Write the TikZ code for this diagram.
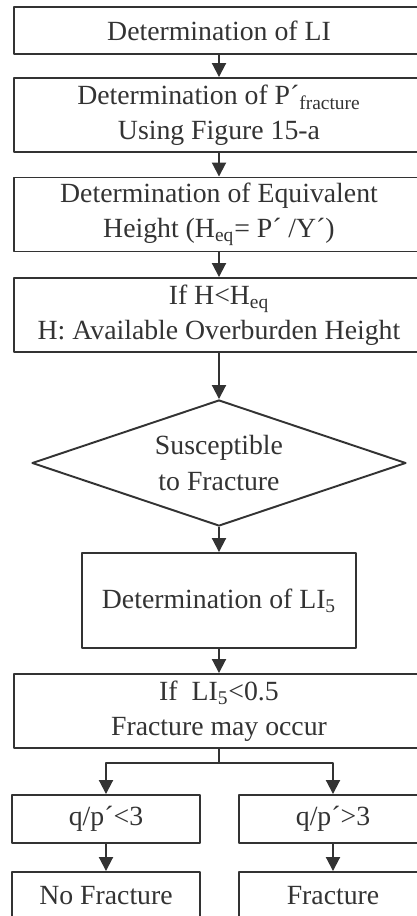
\documentclass[tikz,border=0pt]{standalone}
\usepackage{fontspec}
\setmainfont{Liberation Serif}
\usetikzlibrary{arrows.meta,positioning,shapes.geometric}
\definecolor{ink}{HTML}{333333}

\begin{document}
\begin{tikzpicture}[line join=round, color=ink, line width=1.1pt,
  font=\fontsize{15.8}{20}\selectfont,
  box/.style={draw, rectangle, align=center, inner sep=0pt},
  wide/.style={box, minimum width=8.2cm, minimum height=1.48cm},
  small/.style={box, minimum width=3.76cm, minimum height=0.96cm},
  dec/.style={draw, diamond, aspect=2.97, align=center, inner sep=0pt, minimum width=7.48cm, minimum height=2.52cm},
  flow/.style={-{Triangle[length=0.28cm,width=0.28cm]}}]
\useasboundingbox (0,0) rectangle (8.34,-18.32);
\clip (0,0) rectangle (8.34,-18.32);
\node[wide, minimum height=0.94cm] (li)    at (4.38,-0.61)  {Determination of LI};
\node[wide]                        (pfr)   at (4.38,-2.30)  {Determination of P´\textsubscript{fracture}\\Using Figure 15-a};
\node[wide]                        (heq)   at (4.38,-4.29)  {Determination of Equivalent\\Height (H\textsubscript{eq}= P´ /Υ´)};
\node[wide]                        (cond)  at (4.38,-6.30)  {If H<H\textsubscript{eq}\\H: Available Overburden Height};
\node[dec]                         (susc)  at (4.38,-9.26)  {Susceptible\\to Fracture};
\node[box, minimum width=5.48cm, minimum height=1.90cm] (lifive) at (4.38,-12.01) {Determination of LI\textsubscript{5}};
\node[wide]                        (occ)   at (4.38,-14.22) {If~~LI\textsubscript{5}<0.5\\Fracture may occur};
\node[small]                       (qlt)   at (2.12,-16.38) {q/p´<3};
\node[small]                       (qgt)   at (6.66,-16.38) {q/p´>3};
\node[small]                       (nofr)  at (2.12,-17.92) {No Fracture};
\node[small]                       (fr)    at (6.66,-17.92) {Fracture};
\coordinate (split) at (4.38,-15.26);
\draw[flow] (li)     -- (pfr);
\draw[flow] (pfr)    -- (heq);
\draw[flow] (heq)    -- (cond);
\draw[flow] (cond)   -- (susc);
\draw[flow] (susc)   -- (lifive);
\draw[flow] (lifive) -- (occ);
\draw (occ) -- (split);
\draw[flow] (split) -| (qlt);
\draw[flow] (split) -| (qgt);
\draw[flow] (qlt)    -- (nofr);
\draw[flow] (qgt)    -- (fr);
\end{tikzpicture}
\end{document}
